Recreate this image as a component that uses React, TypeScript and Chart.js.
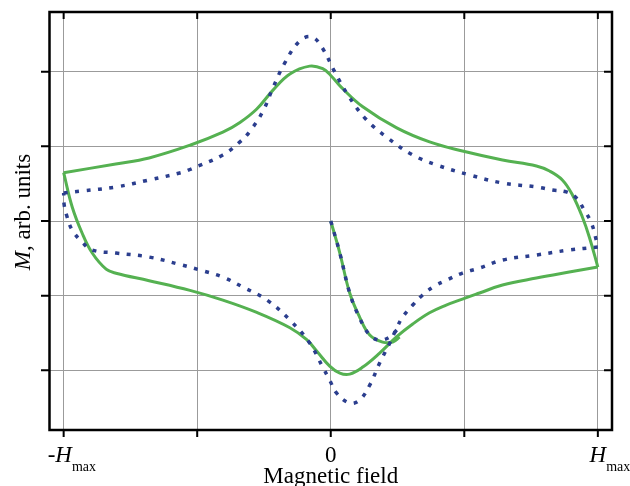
import { useEffect, useRef } from 'react';
import { Chart, registerables } from 'chart.js';

Chart.register(...registerables);

// Axis ticks (x in units of H_max)
const xTickValues = [-1, -0.5, 0, 0.5, 1];
const xTickMain = ['-H', '', '0', '', 'H'];
const xTickSub = ['max', '', '', '', 'max'];
const yTickValues = [-2, -1, 0, 1, 2];
const xTitle = 'Magnetic field';
const yTitleItalic = 'M';
const yTitleRest = ', arb. units';

// Green solid curve: upper branch (-Hmax -> +Hmax)
const greenUpperX = [-1.0, -0.805, -0.68, -0.527, -0.404, -0.34, -0.277, -0.217, -0.153, -0.079, -0.03, 0.0, 0.04, 0.12, 0.247, 0.37, 0.493, 0.643, 0.77, 0.819, 0.867, 0.905, 0.942, 0.968, 1.0];
const greenUpperY = [0.647, 0.764, 0.845, 1.015, 1.19, 1.32, 1.5, 1.75, 1.97, 2.075, 2.04, 1.95, 1.79, 1.53, 1.247, 1.059, 0.938, 0.818, 0.737, 0.67, 0.55, 0.349, 0.054, -0.214, -0.617];
// Green lower branch (+Hmax -> -Hmax)
const greenLowerX = [1.0, 0.893, 0.77, 0.643, 0.557, 0.493, 0.43, 0.37, 0.307, 0.247, 0.183, 0.12, 0.071, 0.034, -0.004, -0.052, -0.09, -0.153, -0.277, -0.404, -0.527, -0.68, -0.804, -0.841, -0.893, -0.931, -0.968, -1.0];
const greenLowerY = [-0.617, -0.684, -0.764, -0.858, -0.965, -1.046, -1.13, -1.23, -1.38, -1.55, -1.77, -1.957, -2.051, -2.038, -1.944, -1.745, -1.59, -1.43, -1.225, -1.06, -0.93, -0.80, -0.70, -0.645, -0.429, -0.161, 0.188, 0.647];
// Green initial curve
const greenInitX = [0, 0.034, 0.071, 0.108, 0.146, 0.194, 0.232, 0.258];
const greenInitY = [0, -0.429, -0.965, -1.287, -1.528, -1.622, -1.622, -1.555];

// Blue dotted curve: upper branch
const blueUpperX = [-1.0, -0.931, -0.804, -0.68, -0.557, -0.527, -0.404, -0.34, -0.303, -0.254, -0.217, -0.172, -0.116, -0.071, -0.034, 0.015, 0.064, 0.131, 0.213, 0.307, 0.396, 0.52, 0.643, 0.77, 0.83, 0.882, 0.92, 0.949, 0.976, 0.994, 1.0];
const blueUpperY = [0.375, 0.402, 0.456, 0.55, 0.65, 0.69, 0.885, 1.06, 1.2, 1.47, 1.78, 2.118, 2.413, 2.466, 2.332, 1.997, 1.689, 1.367, 1.113, 0.885, 0.751, 0.617, 0.509, 0.456, 0.416, 0.389, 0.308, 0.147, -0.027, -0.255, -0.349];
// Blue lower branch
const blueLowerX = [1.0, 0.893, 0.77, 0.643, 0.557, 0.493, 0.434, 0.389, 0.344, 0.307, 0.269, 0.247, 0.221, 0.183, 0.146, 0.108, 0.071, 0.022, -0.004, -0.03, -0.079, -0.153, -0.239, -0.329, -0.404, -0.49, -0.557, -0.68, -0.804, -0.893, -0.931, -0.968, -0.987, -0.998, -1.0];
const blueLowerY = [-0.349, -0.389, -0.456, -0.523, -0.63, -0.697, -0.791, -0.871, -0.992, -1.126, -1.287, -1.434, -1.635, -1.903, -2.198, -2.399, -2.44, -2.306, -2.131, -1.957, -1.635, -1.327, -1.059, -0.885, -0.751, -0.657, -0.59, -0.483, -0.429, -0.389, -0.282, -0.121, 0.054, 0.214, 0.375];
// Blue initial curve
const blueInitX = [0, 0.034, 0.071, 0.108, 0.146, 0.183, 0.221, 0.247];
const blueInitY = [0, -0.429, -0.965, -1.3, -1.528, -1.595, -1.555, -1.461];

const GREEN = '#55B151';
const BLUE = '#2B3E8E';
const FAMILY = '"Liberation Serif", "Times New Roman", serif';

const zip = (xs: number[], ys: number[]) => xs.map((x, i) => ({ x, y: ys[i] }));

const greenDs = (xs: number[], ys: number[]) => ({
  data: zip(xs, ys),
  showLine: true,
  borderColor: GREEN,
  borderWidth: 3,
  pointRadius: 0,
  tension: 0.4,
  fill: false,
});
const blueDs = (xs: number[], ys: number[]) => ({
  data: zip(xs, ys),
  showLine: true,
  borderColor: BLUE,
  borderWidth: 3.5,
  borderDash: [4, 7.5],
  borderCapStyle: 'butt',
  pointRadius: 0,
  tension: 0.4,
  fill: false,
});

const decor = {
  id: 'decor',
  afterDraw(chart: any) {
    const { ctx, chartArea: a, scales } = chart;
    const xs = scales.x;
    const ys = scales.y;
    ctx.save();
    ctx.strokeStyle = '#000';
    ctx.lineWidth = 2.5;
    ctx.strokeRect(a.left, a.top, a.right - a.left, a.bottom - a.top);
    ctx.lineWidth = 2;
    ctx.beginPath();
    xTickValues.forEach((v) => {
      const px = xs.getPixelForValue(v);
      ctx.moveTo(px, a.bottom);
      ctx.lineTo(px, a.bottom + 7);
      ctx.moveTo(px, a.top);
      ctx.lineTo(px, a.top + 7);
    });
    yTickValues.forEach((v) => {
      const py = ys.getPixelForValue(v);
      ctx.moveTo(a.left - 8.5, py);
      ctx.lineTo(a.left, py);
      ctx.moveTo(a.right - 8, py);
      ctx.lineTo(a.right, py);
    });
    ctx.stroke();

    ctx.fillStyle = '#000';
    ctx.textBaseline = 'alphabetic';
    const REG = `23px ${FAMILY}`;
    const ITAL = `italic 23px ${FAMILY}`;
    const SUB = `14px ${FAMILY}`;
    const base = a.bottom + 32;
    xTickValues.forEach((v, i) => {
      const main = xTickMain[i];
      if (!main) return;
      const px = xs.getPixelForValue(v);
      if (!/[A-Za-z]/.test(main)) {
        ctx.font = REG;
        ctx.textAlign = 'center';
        ctx.fillText(main, px, base);
        return;
      }
      const sign = main.startsWith('-') ? '-' : '';
      const letter = main.slice(sign.length);
      ctx.textAlign = 'left';
      ctx.font = ITAL;
      const w = ctx.measureText(letter).width;
      const lx = px - w / 2;
      ctx.fillText(letter, lx, base);
      if (sign) {
        ctx.font = REG;
        const sw = ctx.measureText(sign).width;
        ctx.fillText(sign, lx - sw, base);
      }
      const sub = xTickSub[i];
      if (sub) {
        ctx.font = SUB;
        ctx.fillText(sub, lx + w, base + 9);
      }
    });

    // x title
    ctx.font = REG;
    ctx.textAlign = 'center';
    ctx.fillText(xTitle, (a.left + a.right) / 2, a.bottom + 53);

    // y title
    ctx.save();
    ctx.translate(30, 212);
    ctx.rotate(-Math.PI / 2);
    ctx.textAlign = 'left';
    ctx.font = ITAL;
    const w1 = ctx.measureText(yTitleItalic).width;
    ctx.font = REG;
    const w2 = ctx.measureText(yTitleRest).width;
    const start = -(w1 + w2) / 2;
    ctx.font = ITAL;
    ctx.fillText(yTitleItalic, start, 0);
    ctx.font = REG;
    ctx.fillText(yTitleRest, start + w1, 0);
    ctx.restore();

    ctx.restore();
  },
};

export default function App() {
  const ref = useRef<HTMLCanvasElement>(null);
  useEffect(() => {
    if (!ref.current) return;
    const chart = new Chart(ref.current, {
      type: 'scatter',
      data: {
        datasets: [
          blueDs(blueInitX, blueInitY),
          blueDs(blueUpperX, blueUpperY),
          blueDs(blueLowerX, blueLowerY),
          greenDs(greenInitX, greenInitY),
          greenDs(greenUpperX, greenUpperY),
          greenDs(greenLowerX, greenLowerY),
        ] as any,
      },
      options: {
        animation: false,
        responsive: false,
        maintainAspectRatio: false,
        devicePixelRatio: 1,
        layout: { padding: { left: 49.5, right: 18, top: 12, bottom: 56 } },
        plugins: { legend: { display: false }, tooltip: { enabled: false } },
        scales: {
          x: {
            type: 'linear',
            min: -1.053,
            max: 1.053,
            afterBuildTicks: (s: any) => {
              s.ticks = xTickValues.map((value) => ({ value }));
            },
            ticks: { display: false },
            grid: { color: '#9b9b9b', lineWidth: 1, drawTicks: false },
            border: { display: false },
          },
          y: {
            type: 'linear',
            min: -2.8,
            max: 2.8,
            afterBuildTicks: (s: any) => {
              s.ticks = yTickValues.map((value) => ({ value }));
            },
            ticks: { display: false },
            grid: { color: '#9b9b9b', lineWidth: 1, drawTicks: false },
            border: { display: false },
          },
        },
      },
      plugins: [decor],
    });
    return () => chart.destroy();
  }, []);
  return (
    <div style={{ position: 'absolute', left: 0, top: 0, width: 630, height: 486 }}>
      <canvas ref={ref} width={630} height={486} />
    </div>
  );
}
